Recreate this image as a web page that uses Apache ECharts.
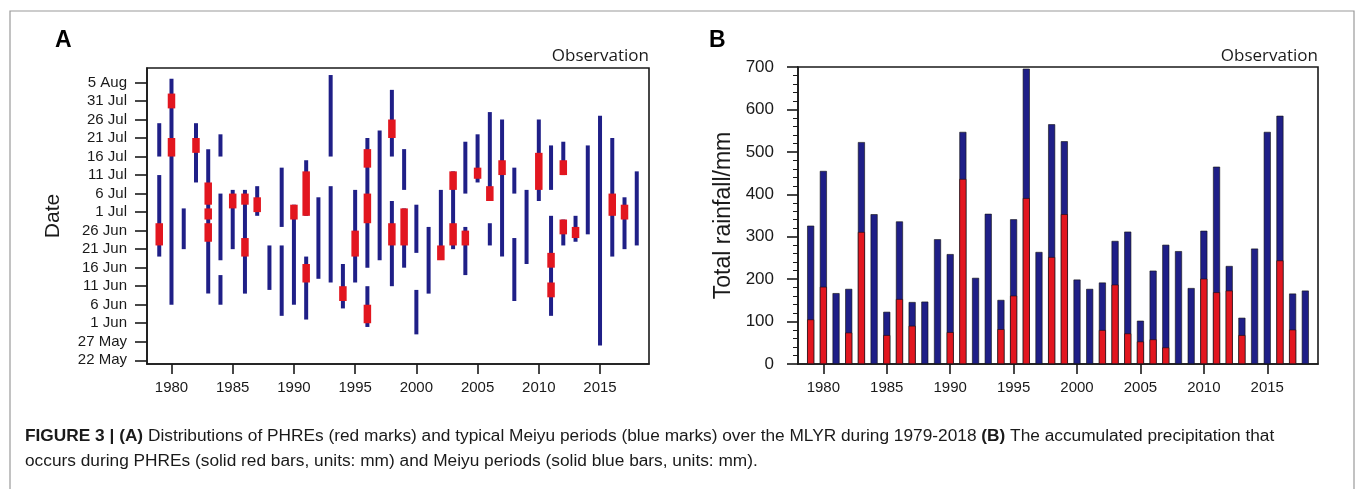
<!DOCTYPE html>
<html>
<head>
<meta charset="utf-8">
<script src="https://cdn.jsdelivr.net/npm/echarts@6.0.0/dist/echarts.min.js"></script>
<style>
html,body{margin:0;padding:0;background:#fff;}
#chart{width:1355px;height:489px;}
</style>
</head>
<body>
<div id="chart"></div>
<script>
// ---- Panel A: Meiyu periods (blue) and PHREs (red), [year, start, end]
const meiyuPeriods = [
  [1979,'Jun 19','Jul 11'],[1979,'Jul 16','Jul 25'],
  [1980,'Jun 6','Aug 6'],
  [1981,'Jun 21','Jul 2'],
  [1982,'Jul 9','Jul 25'],
  [1983,'Jun 9','Jul 18'],
  [1984,'Jul 16','Jul 22'],[1984,'Jun 18','Jul 6'],[1984,'Jun 6','Jun 14'],
  [1985,'Jun 21','Jul 7'],
  [1986,'Jun 9','Jul 7'],
  [1987,'Jun 30','Jul 8'],
  [1988,'Jun 10','Jun 22'],
  [1989,'Jun 27','Jul 13'],[1989,'Jun 3','Jun 22'],
  [1990,'Jun 6','Jul 3'],
  [1991,'Jun 30','Jul 15'],[1991,'Jun 2','Jun 19'],
  [1992,'Jun 13','Jul 5'],
  [1993,'Jul 16','Aug 7'],[1993,'Jun 12','Jul 8'],
  [1994,'Jun 5','Jun 17'],
  [1995,'Jun 12','Jul 7'],
  [1996,'Jun 16','Jul 21'],[1996,'May 31','Jun 11'],
  [1997,'Jun 18','Jul 23'],
  [1998,'Jul 16','Aug 3'],[1998,'Jun 11','Jul 4'],
  [1999,'Jul 7','Jul 18'],[1999,'Jun 16','Jul 2'],
  [2000,'Jun 20','Jul 3'],[2000,'May 29','Jun 10'],
  [2001,'Jun 9','Jun 27'],
  [2002,'Jun 19','Jul 7'],
  [2003,'Jun 21','Jul 12'],
  [2004,'Jul 6','Jul 20'],[2004,'Jun 14','Jun 27'],
  [2005,'Jul 9','Jul 22'],
  [2006,'Jul 4','Jul 28'],[2006,'Jun 22','Jun 28'],
  [2007,'Jun 19','Jul 26'],
  [2008,'Jul 6','Jul 13'],[2008,'Jun 7','Jun 24'],
  [2009,'Jun 17','Jul 7'],
  [2010,'Jul 4','Jul 26'],
  [2011,'Jul 7','Jul 19'],[2011,'Jun 3','Jun 30'],
  [2012,'Jul 11','Jul 20'],[2012,'Jun 22','Jun 29'],
  [2013,'Jun 23','Jun 30'],
  [2014,'Jun 25','Jul 19'],
  [2015,'May 26','Jul 27'],
  [2016,'Jun 19','Jul 21'],
  [2017,'Jun 21','Jul 5'],
  [2018,'Jun 22','Jul 12']
];
const phrePeriods = [
  [1979,'Jun 22','Jun 28'],
  [1980,'Jul 16','Jul 21'],[1980,'Jul 29','Aug 2'],
  [1982,'Jul 17','Jul 21'],
  [1983,'Jul 3','Jul 9'],[1983,'Jun 29','Jul 2'],[1983,'Jun 23','Jun 28'],
  [1985,'Jul 2','Jul 6'],
  [1986,'Jul 3','Jul 6'],[1986,'Jun 19','Jun 24'],
  [1987,'Jul 1','Jul 5'],
  [1990,'Jun 29','Jul 3'],
  [1991,'Jun 30','Jul 12'],[1991,'Jun 12','Jun 17'],
  [1994,'Jun 7','Jun 11'],
  [1995,'Jun 19','Jun 26'],
  [1996,'Jul 13','Jul 18'],[1996,'Jun 28','Jul 6'],[1996,'Jun 1','Jun 6'],
  [1998,'Jul 21','Jul 26'],[1998,'Jun 22','Jun 28'],
  [1999,'Jun 22','Jul 2'],
  [2002,'Jun 18','Jun 22'],
  [2003,'Jul 7','Jul 12'],[2003,'Jun 22','Jun 28'],
  [2004,'Jun 22','Jun 26'],
  [2005,'Jul 10','Jul 13'],
  [2006,'Jul 4','Jul 8'],
  [2007,'Jul 11','Jul 15'],
  [2010,'Jul 7','Jul 17'],
  [2011,'Jun 16','Jun 20'],[2011,'Jun 8','Jun 12'],
  [2012,'Jul 11','Jul 15'],[2012,'Jun 25','Jun 29'],
  [2013,'Jun 24','Jun 27'],
  [2016,'Jun 30','Jul 6'],
  [2017,'Jun 29','Jul 3']
];
const dateTicks = ['22 May','27 May','1 Jun','6 Jun','11 Jun','16 Jun','21 Jun','26 Jun',
  '1 Jul','6 Jul','11 Jul','16 Jul','21 Jul','26 Jul','31 Jul','5 Aug'];
const yearTicks = [1980,1985,1990,1995,2000,2005,2010,2015];

// ---- Panel B: accumulated rainfall (mm)
const years = [1979,1980,1981,1982,1983,1984,1985,1986,1987,1988,1989,1990,1991,1992,1993,1994,
  1995,1996,1997,1998,1999,2000,2001,2002,2003,2004,2005,2006,2007,2008,2009,2010,2011,2012,2013,
  2014,2015,2016,2017,2018];
const meiyuRain = [326,455,167,177,523,353,123,336,146,147,294,259,547,203,354,151,
  341,696,264,565,525,199,177,192,290,312,102,220,281,266,179,314,465,231,109,
  272,547,585,166,173];
const phreRain = [105,182,null,74,311,null,68,153,90,null,null,75,436,null,null,82,
  161,391,null,252,353,null,null,80,187,72,53,58,39,null,null,201,169,173,68,
  null,null,244,81,null];

const monthStart = {May:120, Jun:151, Jul:181, Aug:212};
function toDay(s){ const p = s.split(' '); return monthStart[p[0]] + Number(p[1]); }
function tickDay(s){ const p = s.split(' '); return monthStart[p[1]] + Number(p[0]); }
function dayLabel(v){
  const names = ['Aug','Jul','Jun','May'];
  for (const m of names){ if (v > monthStart[m]) return (v - monthStart[m]) + ' ' + m; }
  return String(v);
}

const NAVY = '#1f1f87', RED = '#e2161f', INK = '#1a1a1a';
const FONT = '"Liberation Sans", Arial, sans-serif';

function segRender(color, width){
  return function(params, api){
    const p1 = api.coord([api.value(0), api.value(1)]);
    const p2 = api.coord([api.value(0), api.value(2)]);
    return {type:'line', shape:{x1:p1[0], y1:p1[1], x2:p2[0], y2:p2[1]},
      style:{stroke:color, lineWidth:width, lineCap:'butt'}};
  };
}

const chart = echarts.init(document.getElementById('chart'), null, {renderer:'canvas'});
const axisLineStyle = {color:INK, width:1.6};
const yearAxis = (gi) => ({type:'value', gridIndex:gi, min:1978, max:2019,
  axisLine:{show:true, lineStyle:axisLineStyle},
  axisTick:{show:true, customValues:yearTicks, length:10, lineStyle:axisLineStyle},
  axisLabel:{customValues:yearTicks, formatter:v=>String(v), fontSize:15, color:INK, margin:16, fontFamily:FONT},
  splitLine:{show:false}});
const option = {
  animation:false,
  textStyle:{fontFamily:FONT},
  grid:[
    {left:147, top:68, width:502, height:296, show:true, borderColor:INK, borderWidth:1.6, backgroundColor:'rgba(0,0,0,0)'},
    {left:798, top:67, width:520, height:297, show:true, borderColor:INK, borderWidth:1.6, backgroundColor:'rgba(0,0,0,0)'}
  ],
  xAxis:[yearAxis(0), yearAxis(1)],
  yAxis:[
    {type:'value', gridIndex:0, min:141, max:220.9,
      name:'Date', nameLocation:'middle', nameGap:83,
      nameTextStyle:{fontSize:21, color:INK, fontFamily:FONT},
      axisLine:{show:true, lineStyle:axisLineStyle},
      axisTick:{show:true, customValues:dateTicks.map(tickDay), length:12, lineStyle:axisLineStyle},
      axisLabel:{customValues:dateTicks.map(tickDay), formatter:v=>dayLabel(v), fontSize:15, color:INK, margin:20, fontFamily:FONT},
      splitLine:{show:false}},
    {type:'value', gridIndex:1, min:0, max:700, interval:100,
      name:'Total rainfall/mm', nameLocation:'middle', nameGap:63,
      nameTextStyle:{fontSize:23, color:INK, fontFamily:FONT},
      axisLine:{show:true, lineStyle:axisLineStyle},
      axisTick:{show:true, length:11, lineStyle:axisLineStyle},
      minorTick:{show:true, splitNumber:5, length:5, lineStyle:{color:INK, width:1}},
      axisLabel:{fontSize:17, color:INK, margin:24, fontFamily:FONT},
      splitLine:{show:false}, minorSplitLine:{show:false}}
  ],
  series:[
    {type:'custom', name:'Meiyu', xAxisIndex:0, yAxisIndex:0,
      data: meiyuPeriods.map(d=>[d[0], toDay(d[1]), toDay(d[2])]),
      encode:{x:0, y:[1,2]}, renderItem: segRender(NAVY, 4), z:2},
    {type:'custom', name:'PHRE', xAxisIndex:0, yAxisIndex:0,
      data: phrePeriods.map(d=>[d[0], toDay(d[1]), toDay(d[2])]),
      encode:{x:0, y:[1,2]}, renderItem: segRender(RED, 7.5), z:3},
    {type:'bar', name:'Meiyu rain', xAxisIndex:1, yAxisIndex:1,
      data: years.map((y,i)=>[y, meiyuRain[i]]), barWidth:7,
      itemStyle:{color:NAVY, borderColor:'#111', borderWidth:0.6}, z:2},
    {type:'bar', name:'PHRE rain', xAxisIndex:1, yAxisIndex:1, barGap:'-100%',
      data: years.map((y,i)=>[y, phreRain[i]]).filter(d=>d[1]!==null), barWidth:7,
      itemStyle:{color:RED, borderColor:'#111', borderWidth:0.6}, z:3}
  ],
  graphic:[
    {type:'polyline', silent:true, shape:{points:[[10,489],[10,11],[1354,11],[1354,489]]},
      style:{stroke:'#9a9a9a', lineWidth:1.2, fill:null}},
    {type:'text', left:55, top:29, style:{text:'A', font:'bold 23px '+FONT, fill:'#000'}},
    {type:'text', left:709, top:29, style:{text:'B', font:'bold 23px '+FONT, fill:'#000'}},
    {type:'text', x:649, y:56, style:{text:'Observation', font:'17px "Open Sans", sans-serif', fill:INK, align:'right', verticalAlign:'middle'}},
    {type:'text', x:1318, y:56, style:{text:'Observation', font:'17px "Open Sans", sans-serif', fill:INK, align:'right', verticalAlign:'middle'}},
    {type:'text', x:25, y:436, style:{
      text:'{b|FIGURE 3 | (A)} Distributions of PHREs (red marks) and typical Meiyu periods (blue marks) over the MLYR during 1979-2018 {b|(B)} The accumulated precipitation that',
      font:'17.3px '+FONT, fill:INK, verticalAlign:'middle',
      rich:{b:{fontWeight:'bold', fontSize:17.3, fontFamily:FONT}}}},
    {type:'text', x:25, y:461, style:{
      text:'occurs during PHREs (solid red bars, units: mm) and Meiyu periods (solid blue bars, units: mm).',
      font:'17.3px '+FONT, fill:INK, verticalAlign:'middle'}}
  ]
};
chart.setOption(option);
</script>
</body>
</html>
